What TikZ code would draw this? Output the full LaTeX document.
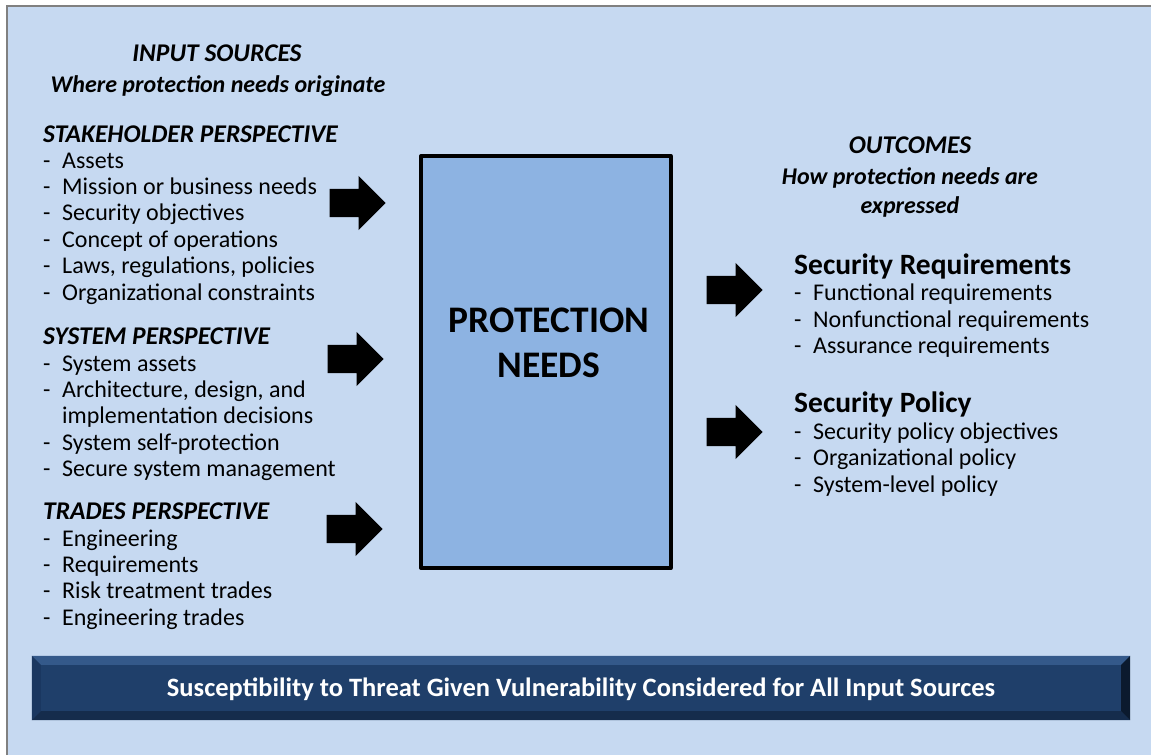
\documentclass[tikz,border=0pt]{standalone}
\usepackage{fontspec}
\setmainfont{Carlito}
\usetikzlibrary{shapes,arrows,positioning}

\definecolor{panelblue}{HTML}{C6D9F1}
\definecolor{boxblue}{HTML}{8DB3E2}
\definecolor{framegray}{HTML}{808080}
\definecolor{barblue}{HTML}{1F3F6A}
\definecolor{barlight}{HTML}{34598A}
\definecolor{barleft}{HTML}{1A3760}
\definecolor{bardark}{HTML}{152C4C}
\definecolor{barshade}{HTML}{0B1A2E}

\tikzset{
  head/.style={anchor=base west, inner sep=0pt,
    font=\fontsize{25.5}{30}\selectfont\bfseries\itshape},
  title/.style={anchor=base, inner sep=0pt,
    font=\fontsize{25.5}{30}\selectfont\bfseries\itshape},
  subtitle/.style={anchor=base, inner sep=0pt,
    font=\fontsize{24}{29}\selectfont\bfseries\itshape},
  outhead/.style={anchor=base west, inner sep=0pt,
    font=\fontsize{29.5}{35}\selectfont\bfseries},
  item/.style={anchor=base west, inner sep=0pt,
    font=\fontsize{24}{28}\selectfont,
    execute at begin node={\makebox[19pt][l]{-}}},
  itemcont/.style={anchor=base west, inner sep=0pt,
    font=\fontsize{24}{28}\selectfont},
  blockarrow/.style={single arrow, fill=black, draw=none, anchor=tip,
    minimum height=56pt, minimum width=0pt, inner xsep=0pt,
    inner ysep=14pt, single arrow head extend=13pt},
}

\begin{document}
\begin{tikzpicture}[x=1pt, y=-1pt]
\useasboundingbox (0,0) rectangle (1151,755);
\fill[white] (0,0) rectangle (1151,755);
\fill[panelblue] (7,6) rectangle (1151,755);
\draw[framegray, line width=2pt] (7,755) -- (7,6) -- (1151,6);

% central box
\node[draw, line width=4pt, fill=boxblue, line join=round,
  minimum width=249.7pt, minimum height=412pt, inner sep=0pt]
  (needs) at (545.85,362) {};
\node[anchor=north, inner sep=0pt, align=center,
  font=\fontsize{37.5}{45}\selectfont\bfseries]
  (needstext) at (549,308) {PROTECTION\\NEEDS};

% input sources
\node[title] (intitle) at (217,61) {INPUT SOURCES};
\node[subtitle] (insub) at (218,92) {Where protection needs originate};

\node[head] (stake) at (43,142) {STAKEHOLDER PERSPECTIVE};
\foreach \t [count=\i from 0] in {Assets, Mission or business needs,
    Security objectives, Concept of operations,
    {Laws, regulations, policies}, Organizational constraints}
  \node[item] (stake\i) at (43,168+26.4*\i) {\t};

\node[head] (sys) at (43,344) {SYSTEM PERSPECTIVE};
\node[item] (sys0) at (43,371) {System assets};
\node[item] (sys1) at (43,397.4) {Architecture, design, and};
\node[itemcont] (sys1b) at (62,423.8) {implementation decisions};
\node[item] (sys2) at (43,450.2) {System self-protection};
\node[item] (sys3) at (43,476.6) {Secure system management};

\node[head] (trades) at (43,519) {TRADES PERSPECTIVE};
\foreach \t [count=\i from 0] in {Engineering, Requirements,
    Risk treatment trades, Engineering trades}
  \node[item] (trades\i) at (43,546+26.4*\i) {\t};

% outcomes
\node[title] (outtitle) at (910,153) {OUTCOMES};
\node[subtitle] (outsub) at (910,184) {How protection needs are};
\node[subtitle] (outsub2) at (910,213) {expressed};

\node[outhead] (req) at (794,274) {Security Requirements};
\foreach \t [count=\i from 0] in {Functional requirements,
    Nonfunctional requirements, Assurance requirements}
  \node[item] (req\i) at (794,300.7+26.3*\i) {\t};

\node[outhead] (pol) at (794,412.7) {Security Policy};
\foreach \t [count=\i from 0] in {Security policy objectives,
    Organizational policy, System-level policy}
  \node[item] (pol\i) at (794,439+26.5*\i) {\t};

% arrows
\node[blockarrow] (arrstake) at (386,203) {};
\node[blockarrow] (arrsys) at (384,359) {};
\node[blockarrow] (arrtrades) at (383,529) {};
\node[blockarrow] (arrreq) at (763,290) {};
\node[blockarrow] (arrpol) at (763,432) {};

% bottom bar
\node[fill=barblue, minimum width=1098pt, minimum height=64pt,
  inner sep=0pt] (bar) at (581,688) {};
\fill[barlight] (bar.north west) -- (bar.north east) -- ++(-9,9)
  -- ([shift={(9,9)}]bar.north west) -- cycle;
\fill[barleft] (bar.north west) -- ([shift={(9,9)}]bar.north west)
  -- ([shift={(9,-9)}]bar.south west) -- (bar.south west) -- cycle;
\fill[bardark] (bar.south west) -- ([shift={(9,-9)}]bar.south west)
  -- ([shift={(-9,-9)}]bar.south east) -- (bar.south east) -- cycle;
\fill[barshade] (bar.north east) -- (bar.south east)
  -- ([shift={(-9,-9)}]bar.south east) -- ([shift={(-9,9)}]bar.north east) -- cycle;
\node[anchor=base, inner sep=0pt, text=white,
  font=\fontsize{26.5}{31}\selectfont\bfseries] (bartext) at (581,696)
  {Susceptibility to Threat Given Vulnerability Considered for All Input Sources};
\end{tikzpicture}
\end{document}
